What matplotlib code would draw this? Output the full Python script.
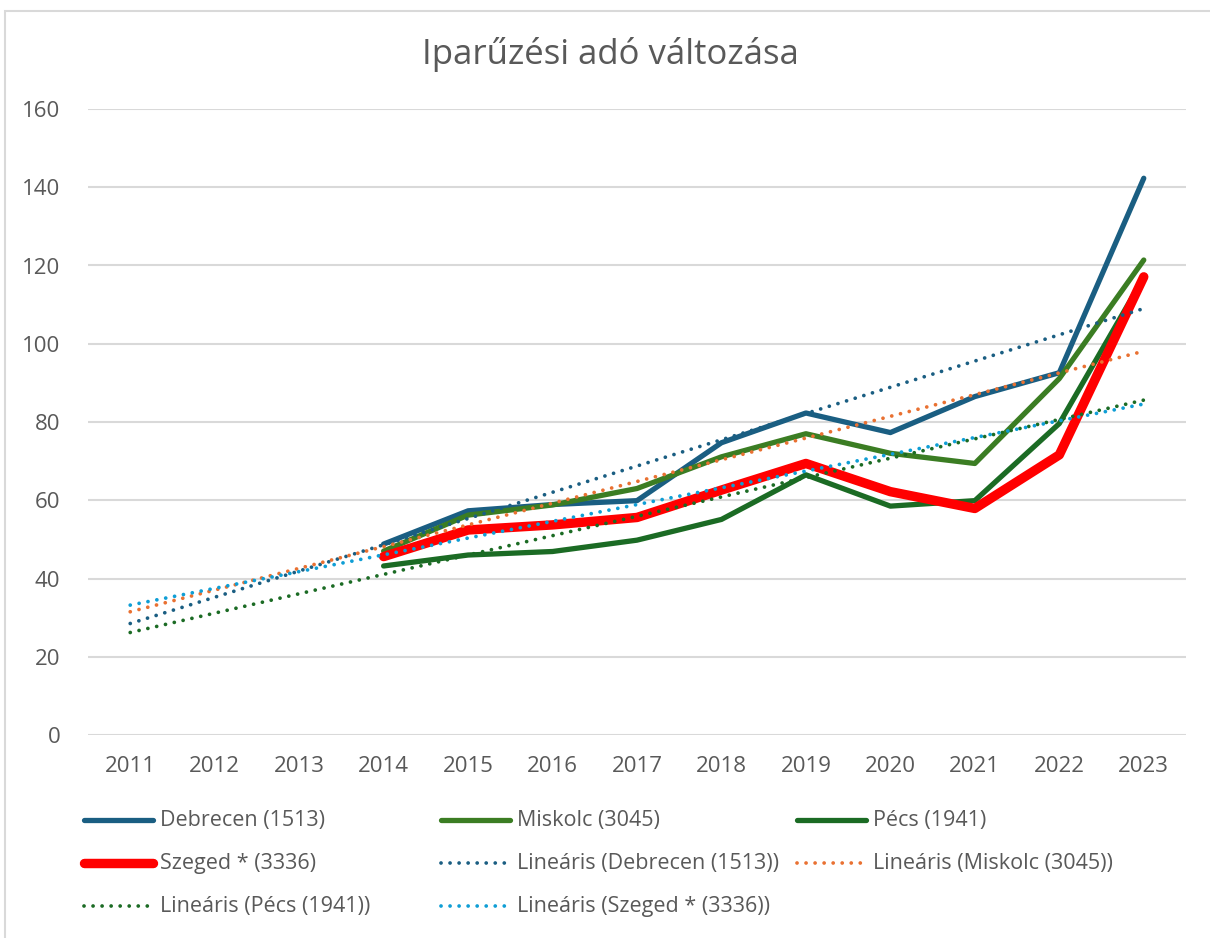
import matplotlib
matplotlib.use("Agg")
import matplotlib.pyplot as plt
from matplotlib.lines import Line2D
from matplotlib.patches import Rectangle
from matplotlib import font_manager

# --- data ---
years = list(range(2011, 2024))
data_years = list(range(2014, 2024))

debrecen = [48.8, 57.3, 58.9, 59.9, 74.7, 82.3, 77.3, 86.5, 92.6, 142.3]
miskolc = [47.0, 56.2, 58.8, 63.0, 71.1, 77.0, 72.0, 69.4, 91.1, 121.4]
pecs = [43.2, 46.0, 46.9, 49.8, 55.1, 66.5, 58.5, 59.9, 79.6, 117.0]
szeged = [45.6, 52.4, 53.7, 55.6, 62.6, 69.4, 62.2, 57.9, 71.6, 117.1]

# linear trendlines as drawn by Excel (value at 2011 and at 2023)
trend_years = [2011, 2023]
trend_debrecen = [28.5, 109.0]
trend_miskolc = [31.5, 98.1]
trend_pecs = [26.2, 85.6]
trend_szeged = [33.2, 84.6]

names = ["Debrecen (1513)", "Miskolc (3045)", "Pécs (1941)", "Szeged * (3336)"]
title = "Iparűzési adó változása"

TXT = "#595959"
GRID = "#d9d9d9"
C_DEB, C_MIS, C_PEC, C_SZE = "#1a5e82", "#3b7d23", "#1b6b24", "#ff0000"
T_DEB, T_MIS, T_PEC, T_SZE = "#1a5e82", "#e97132", "#1b6b24", "#0f9ed5"

available = {f.name for f in font_manager.fontManager.ttflist}
main_font = "Open Sans" if "Open Sans" in available else "DejaVu Sans"
plt.rcParams["font.family"] = [main_font, "DejaVu Sans"]

W, H = 1210, 938
fig = plt.figure(figsize=(W / 100, H / 100), dpi=100)
fig.patch.set_facecolor("white")

# outer chart border (cropped on right and bottom)
fig.add_artist(Rectangle((5 / W, -0.05), 1.1, 1 - 11 / H + 0.05, transform=fig.transFigure,
                         fill=False, edgecolor=GRID, lw=1.5))

ax = fig.add_axes([88 / W, 1 - 735 / H, (1186 - 88) / W, (735 - 109) / H])
ax.set_xlim(2010.5, 2023.5)
ax.set_ylim(0, 160)
ax.set_yticks(range(0, 161, 20))
ax.set_xticks(years)
ax.grid(axis="y", color=GRID, lw=1.5)
ax.set_axisbelow(True)
for s in ax.spines.values():
    s.set_visible(False)
ax.tick_params(length=0, labelsize=16, labelcolor=TXT)
ax.tick_params(axis="y", pad=20)
ax.tick_params(axis="x", pad=15)

solid = dict(solid_capstyle="round", solid_joinstyle="round")
ax.plot(data_years, debrecen, color=C_DEB, lw=3.8, **solid)
ax.plot(data_years, miskolc, color=C_MIS, lw=3.8, **solid)
ax.plot(data_years, pecs, color=C_PEC, lw=3.8, **solid)
ax.plot(data_years, szeged, color=C_SZE, lw=6.8, **solid)

dots = (0, (0.01, 2.4))
for vals, col in [(trend_debrecen, T_DEB), (trend_miskolc, T_MIS),
                  (trend_pecs, T_PEC), (trend_szeged, T_SZE)]:
    ax.plot(trend_years, vals, color=col, lw=2.7, linestyle=dots, dash_capstyle="round")

fig.text(610 / W, 1 - 55 / H, title, ha="center", va="center", fontsize=25, color=TXT)

# legend, laid out row by row like Excel
entries = [
    (names[0], C_DEB, 3.8, "-"), (names[1], C_MIS, 3.8, "-"), (names[2], C_PEC, 3.8, "-"),
    (names[3], C_SZE, 6.8, "-"), ("Lineáris (" + names[0] + ")", T_DEB, 2.7, dots),
    ("Lineáris (" + names[1] + ")", T_MIS, 2.7, dots),
    ("Lineáris (" + names[2] + ")", T_PEC, 2.7, dots),
    ("Lineáris (" + names[3] + ")", T_SZE, 2.7, dots),
]
col_x = [84, 441, 797]
row_y = [820, 863, 906]
for i, (label, col, lw, ls) in enumerate(entries):
    x0 = col_x[i % 3]
    y0 = row_y[i // 3]
    ln = Line2D([x0 / W, (x0 + 69) / W], [1 - y0 / H] * 2, transform=fig.transFigure,
                color=col, lw=lw, linestyle=ls, solid_capstyle="round", dash_capstyle="round")
    fig.add_artist(ln)
    fig.text((x0 + 76) / W, 1 - y0 / H, label, ha="left", va="center", fontsize=15.5,
             color=TXT)

fig.savefig("out.png", dpi=100)
